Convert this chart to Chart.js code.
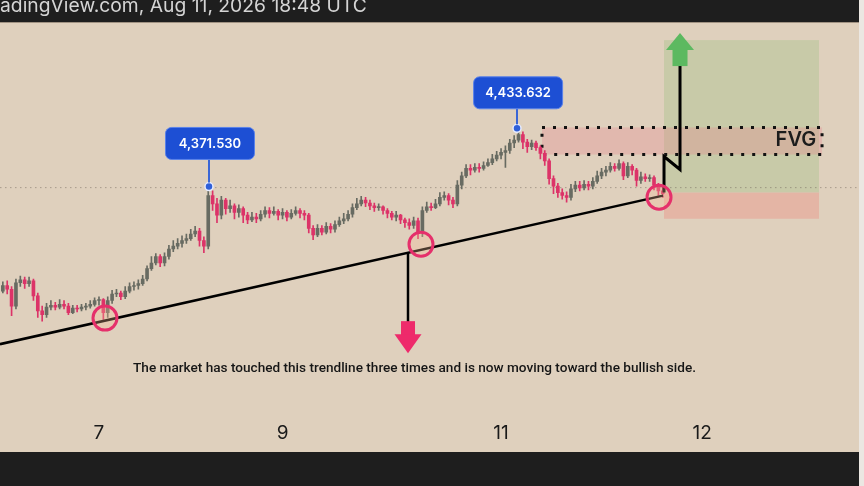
<!DOCTYPE html>
<html>
<head>
<meta charset="utf-8">
<script src="https://cdn.jsdelivr.net/npm/chart.js@4"></script>
<style>
  html, body { margin: 0; padding: 0; background: #dfd0bd; overflow: hidden; }
  canvas { display: block; }
</style>
</head>
<body>
<canvas id="grafico" width="864" height="486"></canvas>
<script>
// barras de 30 min, barra 0 = 7 ago 00:00
const primeiraBarra = -22;
const aberturas = [
  4260, 4266, 4262, 4244, 4269, 4272, 4268, 4271, 4255, 4239,
  4235, 4243, 4245, 4243, 4246, 4244, 4237, 4242, 4241, 4243,
  4244, 4246, 4250, 4251, 4237, 4250, 4257, 4258, 4254, 4260,
  4265, 4266, 4268, 4273, 4284, 4290, 4297, 4290, 4297, 4305,
  4308, 4311, 4314, 4316, 4321, 4324, 4314, 4308, 4362, 4353,
  4341, 4357, 4348, 4351, 4344, 4348, 4341, 4336, 4339, 4337,
  4342, 4346, 4343, 4345, 4341, 4344, 4339, 4343, 4346, 4343,
  4341, 4327, 4320, 4327, 4323, 4329, 4326, 4331, 4335, 4337,
  4342, 4349, 4353, 4357, 4354, 4351, 4349, 4350, 4346, 4343,
  4339, 4341, 4336, 4333, 4330, 4335, 4322, 4346, 4350, 4349,
  4353, 4360, 4362, 4357, 4353, 4373, 4383, 4391, 4389, 4392,
  4391, 4394, 4397, 4401, 4405, 4408, 4410, 4418, 4421, 4427,
  4419, 4414, 4418, 4413, 4407, 4399, 4380, 4372, 4365, 4362,
  4360, 4369, 4373, 4370, 4374, 4372, 4377, 4383, 4387, 4389,
  4393, 4391, 4396, 4383, 4393, 4389, 4378, 4382, 4380, 4381,
  4373, 4367
];
const maximas = [
  4270, 4271, 4265, 4273, 4276, 4275, 4275, 4273, 4258, 4244,
  4247, 4250, 4248, 4251, 4250, 4247, 4245, 4245, 4246, 4247,
  4250, 4253, 4254, 4252, 4254, 4261, 4262, 4260, 4265, 4269,
  4270, 4272, 4277, 4287, 4297, 4300, 4299, 4301, 4309, 4314,
  4316, 4319, 4321, 4326, 4329, 4327, 4318, 4371.53, 4367, 4359,
  4361, 4359, 4357, 4353, 4352, 4350, 4344, 4344, 4343, 4346,
  4350, 4349, 4350, 4347, 4348, 4346, 4347, 4350, 4348, 4346,
  4343, 4330, 4331, 4330, 4333, 4332, 4335, 4339, 4343, 4346,
  4353, 4359, 4361, 4360, 4357, 4354, 4353, 4351, 4348, 4345,
  4345, 4342, 4338, 4337, 4339, 4338, 4350, 4355, 4354, 4358,
  4365, 4366, 4364, 4360, 4378, 4387, 4395, 4395, 4396, 4396,
  4398, 4401, 4406, 4409, 4412, 4415, 4422, 4426, 4433.632, 4430,
  4422, 4421, 4420, 4415, 4410, 4401, 4383, 4375, 4369, 4366,
  4374, 4377, 4377, 4378, 4377, 4381, 4388, 4391, 4393, 4397,
  4396, 4400, 4398, 4397, 4395, 4391, 4387, 4385, 4384, 4383,
  4375, 4372
];
const minimas = [
  4258, 4257, 4234, 4241, 4265, 4263, 4265, 4250, 4232, 4228,
  4232, 4240, 4240, 4241, 4241, 4235, 4236, 4238, 4239, 4240,
  4242, 4244, 4245, 4230, 4232, 4247, 4254, 4251, 4252, 4258,
  4261, 4262, 4266, 4271, 4282, 4288, 4286, 4287, 4294, 4302,
  4305, 4307, 4311, 4314, 4318, 4308, 4301, 4305, 4346, 4333,
  4337, 4342, 4344, 4337, 4339, 4333, 4332, 4334, 4333, 4335,
  4339, 4338, 4341, 4336, 4337, 4335, 4337, 4341, 4338, 4336,
  4322, 4315, 4318, 4320, 4321, 4322, 4323, 4329, 4332, 4335,
  4339, 4347, 4351, 4350, 4347, 4345, 4346, 4342, 4338, 4336,
  4335, 4332, 4328, 4326, 4327, 4316, 4318, 4344, 4346, 4348,
  4351, 4357, 4352, 4349, 4351, 4369, 4381, 4384, 4387, 4387,
  4389, 4393, 4395, 4399, 4401, 4392, 4407, 4413, 4419, 4412,
  4408, 4411, 4410, 4401, 4394, 4374, 4364, 4360, 4358, 4355,
  4357, 4366, 4367, 4368, 4368, 4369, 4375, 4380, 4383, 4387,
  4388, 4389, 4379, 4381, 4384, 4372, 4375, 4377, 4377, 4368,
  4362, 4360
];
const fechamentos = [
  4266, 4262, 4244, 4269, 4272, 4268, 4271, 4255, 4239, 4235,
  4243, 4245, 4243, 4246, 4244, 4237, 4242, 4241, 4243, 4244,
  4246, 4250, 4251, 4237, 4250, 4257, 4258, 4254, 4260, 4265,
  4266, 4268, 4273, 4284, 4290, 4297, 4290, 4297, 4305, 4308,
  4311, 4314, 4316, 4321, 4324, 4314, 4308, 4362, 4353, 4341,
  4357, 4348, 4351, 4344, 4348, 4341, 4336, 4339, 4337, 4342,
  4346, 4343, 4345, 4341, 4344, 4339, 4343, 4346, 4343, 4341,
  4327, 4320, 4327, 4323, 4329, 4326, 4331, 4335, 4337, 4342,
  4349, 4353, 4357, 4354, 4351, 4349, 4350, 4346, 4343, 4339,
  4341, 4336, 4333, 4330, 4335, 4322, 4346, 4350, 4349, 4353,
  4360, 4362, 4357, 4353, 4373, 4383, 4391, 4389, 4392, 4391,
  4394, 4397, 4401, 4405, 4408, 4410, 4418, 4421, 4427, 4419,
  4414, 4418, 4413, 4407, 4399, 4380, 4372, 4365, 4362, 4360,
  4369, 4373, 4370, 4374, 4372, 4377, 4383, 4387, 4389, 4393,
  4391, 4396, 4383, 4393, 4389, 4378, 4382, 4380, 4381, 4373,
  4367, 4364
];
const marcasEixo = [0, 42, 92, 138];
const rotulosEixo = ['7', '9', '11', '12'];

const linhaTendencia = [{ x: -22.65, y: 4203.5 }, { x: 129.06, y: 4361.9 }];
const toques = [{ x: 1.37, y: 4231.3 }, { x: 73.68, y: 4310.0 }, { x: 128.15, y: 4360.2 }];
const picos = [{ x: 25.17, y: 4371.53 }, { x: 95.65, y: 4433.632 }];
const textosPicos = ['4,371.530', '4,433.632'];
const centrosRotulos = [{ x: 25.4, y: 4417.5 }, { x: 95.9, y: 4471.5 }];
const precoAtual = 4370.4;
const linhaQueda = [{ x: 70.71, y: 4301.0 }, { x: 70.71, y: 4226.0 }];
const caminhoAlta = [{ x: 129.29, y: 4365.1 }, { x: 129.29, y: 4403.6 }, { x: 132.95, y: 4389.7 }, { x: 132.95, y: 4501.0 }];
const setaBaixa = { x: 70.71, y: 4193.9 };
const setaAlta = { x: 132.95, y: 4535.2 };
const zonaFVG = { x0: 101.37, x1: 165.45, y0: 4405.7, y1: 4434.6 };
const zonaAlvo = { x0: 129.29, x1: 164.76, y0: 4365.1, y1: 4527.7 };
const zonaStop = { x0: 129.29, x1: 164.76, y0: 4337.2, y1: 4365.1 };
const posTextoFVG = { x: 164.1, y: 4420.7 };
const posComentario = { x: 72.2, y: 4177.8 };
const comentario = 'The market has touched this trendline three times and is now moving toward the bullish side.';
const cabecalho = 'TradingView.com, Aug 11, 2026 18:48 UTC';

const xMin = -22.65, xMax = 175.05;
const yMin = 4131.8, yMax = 4547.0;

const corAlta = '#686b62';
const corBaixa = '#dc3368';
const barras = aberturas.map((_, k) => primeiraBarra + k);
const corVela = c => fechamentos[c.dataIndex] >= aberturas[c.dataIndex] ? corAlta : corBaixa;

const marcacoes = {
    id: 'marcacoes',
    beforeDraw(chart) {
        const ctx = chart.ctx;
        ctx.save();
        ctx.fillStyle = '#dfd0bd';
        ctx.fillRect(0, 0, chart.width, chart.height);
        ctx.restore();
    },
    beforeDatasetsDraw(chart) {
        const { ctx, scales: { x, y } } = chart;
        const caixa = (z, cor) => {
            const l = x.getPixelForValue(z.x0), r = x.getPixelForValue(z.x1);
            const t = y.getPixelForValue(z.y1), b = y.getPixelForValue(z.y0);
            ctx.fillStyle = cor;
            ctx.fillRect(l, t, r - l, b - t);
            return { l, r, t, b };
        };
        ctx.save();
        caixa(zonaAlvo, '#c8caa8');
        caixa(zonaStop, '#e4b5a5');
        const f = caixa(zonaFVG, 'rgba(232, 128, 138, 0.3)');
        ctx.setLineDash([3, 8]);
        ctx.lineWidth = 3;
        ctx.strokeStyle = '#111';
        ctx.strokeRect(f.l, f.t, f.r - f.l, f.b - f.t);
        ctx.setLineDash([]);
        ctx.restore();
    },
    afterDatasetsDraw(chart) {
        const { ctx, scales: { x, y } } = chart;
        ctx.save();

        // seta rosa para baixo
        let px = x.getPixelForValue(setaBaixa.x), py = y.getPixelForValue(setaBaixa.y);
        ctx.fillStyle = '#ee2a6b';
        ctx.fillRect(px - 7, py - 32, 14, 14);
        ctx.beginPath();
        ctx.moveTo(px - 13.5, py - 19);
        ctx.lineTo(px + 13.5, py - 19);
        ctx.lineTo(px, py);
        ctx.closePath();
        ctx.fill();

        // seta verde para cima
        px = x.getPixelForValue(setaAlta.x);
        py = y.getPixelForValue(setaAlta.y);
        ctx.fillStyle = '#5cb960';
        ctx.fillRect(px - 7.5, py + 16, 15, 17);
        ctx.beginPath();
        ctx.moveTo(px - 14, py + 17);
        ctx.lineTo(px + 14, py + 17);
        ctx.lineTo(px, py);
        ctx.closePath();
        ctx.fill();

        // FVG
        ctx.fillStyle = '#1c1c1c';
        ctx.font = '600 20px Inter, sans-serif';
        ctx.textAlign = 'right';
        ctx.textBaseline = 'middle';
        ctx.fillText('FVG', x.getPixelForValue(posTextoFVG.x), y.getPixelForValue(posTextoFVG.y));

        // rotulos dos picos
        picos.forEach((p, k) => {
            const dx = x.getPixelForValue(p.x), dy = y.getPixelForValue(p.y);
            const cx = x.getPixelForValue(centrosRotulos[k].x), cy = y.getPixelForValue(centrosRotulos[k].y);
            const w = 89, h = 32;
            ctx.strokeStyle = '#3a66d6';
            ctx.lineWidth = 2;
            ctx.beginPath();
            ctx.moveTo(dx, cy + h / 2);
            ctx.lineTo(dx, dy - 4);
            ctx.stroke();
            ctx.fillStyle = '#1d4fd4';
            ctx.strokeStyle = '#5a82ea';
            ctx.lineWidth = 1;
            ctx.beginPath();
            ctx.roundRect(cx - w / 2, cy - h / 2, w, h, 6);
            ctx.fill();
            ctx.stroke();
            ctx.fillStyle = '#ffffff';
            ctx.font = '600 13px Inter, sans-serif';
            ctx.textAlign = 'center';
            ctx.textBaseline = 'middle';
            ctx.fillText(textosPicos[k], cx, cy + 0.5);
        });

        // comentario
        ctx.fillStyle = '#161616';
        ctx.font = '500 13.6px Roboto, sans-serif';
        ctx.textAlign = 'center';
        ctx.textBaseline = 'middle';
        ctx.fillText(comentario, x.getPixelForValue(posComentario.x), y.getPixelForValue(posComentario.y));
        ctx.restore();
    },
    afterDraw(chart) {
        const ctx = chart.ctx;
        ctx.save();
        ctx.fillStyle = '#1e1e1e';
        ctx.fillRect(0, 0, chart.width, 22);
        ctx.fillRect(0, 452, chart.width, chart.height - 452);
        ctx.fillStyle = '#a09282';
        ctx.fillRect(0, 22, chart.width, 1);
        ctx.fillStyle = '#ebe7e2';
        ctx.fillRect(859, 0, chart.width - 859, chart.height);
        ctx.font = '19.3px Inter, sans-serif';
        ctx.fillStyle = '#d4d4d4';
        ctx.textBaseline = 'alphabetic';
        ctx.textAlign = 'left';
        ctx.fillText(cabecalho, -ctx.measureText('Tr').width, 12);
        ctx.restore();
    }
};

const canvas_grafico = document.getElementById('grafico');
const ctx = canvas_grafico.getContext('2d');

new Chart(ctx, {
    type: 'bar',
    data: {
        datasets: [
            {
                type: 'line',
                data: [{ x: xMin, y: precoAtual }, { x: xMax, y: precoAtual }],
                borderColor: 'rgba(110, 100, 90, 0.5)',
                borderWidth: 1,
                borderDash: [1.5, 3.5],
                pointRadius: 0,
                order: 20,
            },
            {
                label: 'pavios',
                data: barras.map((b, k) => ({ x: b, y: [minimas[k], maximas[k]] })),
                backgroundColor: corVela,
                barThickness: 1,
                grouped: false,
                order: 12,
            },
            {
                label: 'corpos',
                data: barras.map((b, k) => ({ x: b, y: [aberturas[k], fechamentos[k]] })),
                backgroundColor: corVela,
                barThickness: 3,
                minBarLength: 1,
                grouped: false,
                order: 11,
            },
            {
                type: 'line',
                data: linhaTendencia,
                borderColor: '#000',
                borderWidth: 2.5,
                pointRadius: 0,
                order: 6,
            },
            {
                type: 'line',
                data: linhaQueda,
                borderColor: '#000',
                borderWidth: 2.5,
                pointRadius: 0,
                order: 5,
            },
            {
                type: 'line',
                data: caminhoAlta,
                borderColor: '#000',
                borderWidth: 3,
                borderJoinStyle: 'miter',
                pointRadius: 0,
                order: 5,
            },
            {
                type: 'line',
                data: toques,
                showLine: false,
                pointRadius: 12,
                pointBorderWidth: 3,
                pointBorderColor: '#e5306b',
                pointBackgroundColor: 'rgba(250, 190, 150, 0.3)',
                order: 3,
            },
            {
                type: 'line',
                data: picos,
                showLine: false,
                pointRadius: 4,
                pointBorderWidth: 1.5,
                pointBorderColor: '#e6ebff',
                pointBackgroundColor: '#2f5fd8',
                order: 2,
            },
        ],
    },
    options: {
        responsive: false,
        animation: false,
        events: [],
        layout: { autoPadding: false, padding: { top: 22, left: 0, right: 0, bottom: 30.6 } },
        plugins: { legend: { display: false }, tooltip: { enabled: false } },
        scales: {
            x: {
                type: 'linear',
                min: xMin,
                max: xMax,
                offset: false,
                grid: { display: false, drawTicks: false },
                border: { display: false },
                afterBuildTicks: axis => { axis.ticks = marcasEixo.map(v => ({ value: v })); },
                afterFit: axis => { axis.paddingLeft = 0; axis.paddingRight = 0; },
                ticks: {
                    autoSkip: false,
                    maxRotation: 0,
                    padding: 10.6,
                    color: '#1a1a1a',
                    font: { family: 'Inter, sans-serif', size: 19 },
                    callback: (v, i) => rotulosEixo[i],
                },
            },
            y: {
                display: false,
                min: yMin,
                max: yMax,
            },
        },
    },
    plugins: [marcacoes],
});
</script>
</body>
</html>
